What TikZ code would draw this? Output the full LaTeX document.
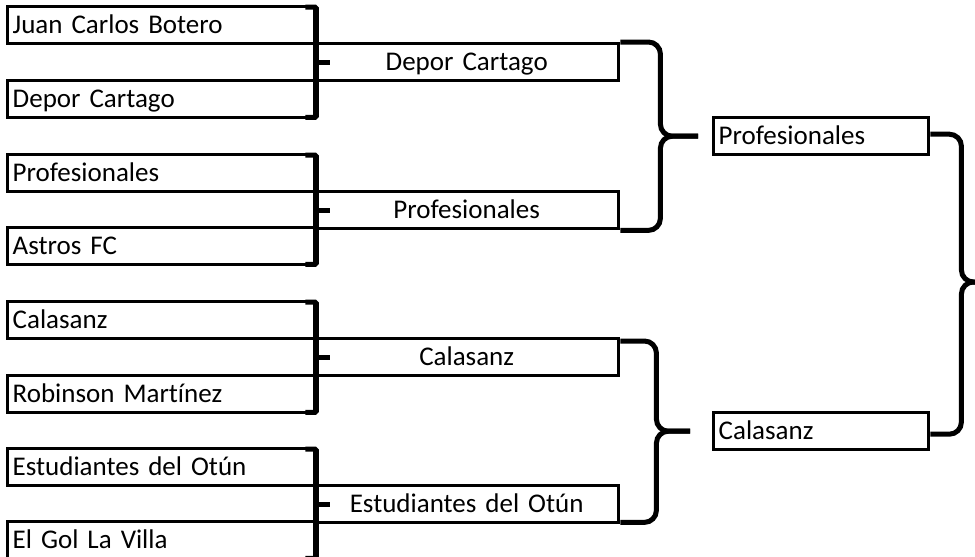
\documentclass[tikz,border=0pt]{standalone}
\usepackage{fontspec}
\setmainfont{Carlito}[Ligatures={NoCommon}]
\usetikzlibrary{calc}
\begin{document}
\begin{tikzpicture}[x=1pt,y=-1pt,
  team/.style={draw, line width=3.4pt, rectangle, inner xsep=5pt, inner ysep=0pt,
    minimum height=37pt, text height=27pt, text depth=10pt,
    font=\fontsize{27pt}{32pt}\selectfont, anchor=north west},
  r1/.style={team, minimum width=307pt, text width=297pt, align=left},
  r2/.style={team, minimum width=304pt, text width=294pt, align=center},
  r3/.style={team, minimum width=215pt, text width=205pt, align=left},
  bracket/.style={line width=5pt, rounded corners=1.5pt},
  brace/.style={line width=5pt, rounded corners=12pt}]
\useasboundingbox (0,0) rectangle (975,557);
% round 1
\node[r1] (t1) at (6,5) {Juan Carlos Botero};
\node[r1] (t2) at (6,79) {Depor Cartago};
\node[r1] (t3) at (6,153) {Profesionales};
\node[r1] (t4) at (6,226) {Astros FC};
\node[r1] (t5) at (6,300) {Calasanz};
\node[r1] (t6) at (6,374) {Robinson Martínez};
\node[r1] (t7) at (6,447) {Estudiantes del Otún};
\node[r1] (t8) at (6,520) {El Gol La Villa};
% round 2
\node[r2] (s1) at (313,42) {Depor Cartago};
\node[r2] (s2) at (313,190) {Profesionales};
\node[r2] (s3) at (313,337) {Calasanz};
\node[r2] (s4) at (313,484) {Estudiantes del Otún};
% round 3
\node[r3] (f1) at (712,116) {Profesionales};
\node[r3] (f2) at (712,411) {Calasanz};
\coordinate (champ) at (975,282);
% brackets round 1
\foreach \a/\b/\s in {t1/t2/s1, t3/t4/s2, t5/t6/s3, t7/t8/s4}{
  \draw[bracket] ([xshift=-11pt,yshift=-2pt]\a.north east) -- ([yshift=-2pt]\a.north east)
    -- ([yshift=2pt]\b.south east) -- ++(-11pt,0);
  \draw[bracket] (\s.west) -- ++(17pt,0);
}
% braces round 2
\draw[brace] (s1.north east) -- ++(40pt,0) |- ([xshift=-14pt]f1.west);
\draw[brace] (s2.south east) -- ++(40pt,0) |- ([xshift=-14pt]f1.west);
\draw[brace] ([yshift=-4pt]s3.north east) -- ++(36pt,0) |- ([xshift=-22pt]f2.west);
\draw[brace] ([yshift=2pt]s4.south east) -- ++(36pt,0) |- ([xshift=-22pt]f2.west);
% final brace
\draw[brace] ([yshift=2pt]f1.east) -- ++(31pt,0) |- (champ);
\draw[brace] ([yshift=-3pt]f2.east) -- ++(31pt,0) |- (champ);
\end{tikzpicture}
\end{document}
